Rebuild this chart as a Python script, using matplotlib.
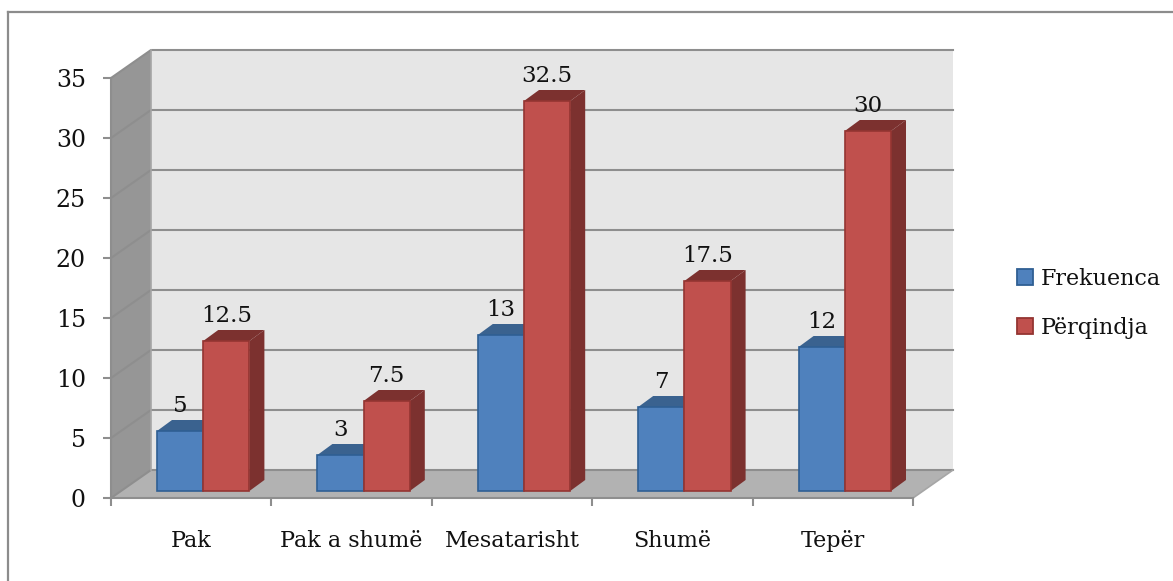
import matplotlib
matplotlib.use('Agg')
import matplotlib.pyplot as plt
from matplotlib.patches import Polygon, Rectangle

categories = ['Pak', 'Pak a shumë', 'Mesatarisht', 'Shumë', 'Tepër']
frekuenca = [5, 3, 13, 7, 12]
perqindja = [12.5, 7.5, 32.5, 17.5, 30]
y_ticks = [0, 5, 10, 15, 20, 25, 30, 35]

BLUE = ('#4f81bd', '#3a628f', '#2f5f93')
RED = ('#c0504d', '#7c312f', '#943532')

W, H = 1173, 581
X0, Y0 = 111, 498          # pixel position of the axis origin
UX, UY = 160.4, 12.0       # pixels per category and per unit
DX, DY = 40 / UX, 28 / UY  # depth of the 3D box in data units

plt.rcParams['font.family'] = ['DejaVu Serif']

fig = plt.figure(figsize=(W / 100, H / 100), dpi=100, facecolor='white')
ax = fig.add_axes([0, 0, 1, 1])
ax.set_xlim(-X0 / UX, (W - X0) / UX)
ax.set_ylim(-(H - Y0) / UY, Y0 / UY)

# outer chart frame, open to the right and bottom
frame = '#8c8c8c'
ax.plot([8 / UX - X0 / UX] * 2, [-(H - Y0) / UY, (Y0 - 12) / UY], color=frame, lw=1.6)
ax.plot([8 / UX - X0 / UX, (W - X0) / UX], [(Y0 - 12) / UY] * 2, color=frame, lw=1.6)

n = len(categories)
top = y_ticks[-1]

# back wall, side wall and floor
ax.add_patch(Rectangle((DX, DY), n, top, fc='#e6e6e6', ec='none', zorder=1))
ax.add_patch(Polygon([(0, 0), (DX, DY), (DX, DY + top), (0, top)], fc='#969696', ec='none', zorder=1))
ax.add_patch(Polygon([(0, 0), (n, 0), (n + DX, DY), (DX, DY)], fc='#b2b2b2', ec='none', zorder=1))

# gridlines run along the side wall and across the back wall
grid = '#8e8e8e'
for v in y_ticks:
    ax.plot([0, DX, n + DX], [v, v + DY, v + DY], color=grid, lw=1.5, zorder=2, solid_joinstyle='miter')
ax.plot([DX, DX], [DY, DY + top], color='#a6a6a6', lw=1.2, zorder=2)
ax.plot([n, n + DX], [0, DY], color='#a6a6a6', lw=1.2, zorder=2)

# bars sit a little inside the floor
BAR_W = 46.2 / UX
OFF_Y = 7 / UY
BAR_DX, BAR_DY = 15 / UX, 11 / UY
LABEL_GAP = 19 / UY


def draw_bar(x, v, colors, z):
    y0 = OFF_Y
    y1 = OFF_Y + v
    x1 = x + BAR_W
    front, dark, edge = colors
    ax.add_patch(Polygon([(x, y1), (x1, y1), (x1 + BAR_DX, y1 + BAR_DY), (x + BAR_DX, y1 + BAR_DY)],
                         fc=dark, ec='none', zorder=z))
    ax.add_patch(Polygon([(x1, y0), (x1 + BAR_DX, y0 + BAR_DY), (x1 + BAR_DX, y1 + BAR_DY), (x1, y1)],
                         fc=dark, ec='none', zorder=z))
    ax.add_patch(Rectangle((x, y0), BAR_W, v, fc=front, ec=edge, lw=1.2, zorder=z + 0.1))


for i in range(n):
    left = i + 46 / UX
    draw_bar(left, frekuenca[i], BLUE, 3)
    draw_bar(left + BAR_W, perqindja[i], RED, 4)
    ax.text(left + BAR_W / 2, frekuenca[i] + OFF_Y + LABEL_GAP, f'{frekuenca[i]:g}', ha='center', va='baseline',
            fontsize=16.5, color='#111111', zorder=6)
    ax.text(left + BAR_W * 1.5, perqindja[i] + OFF_Y + LABEL_GAP, f'{perqindja[i]:g}', ha='center', va='baseline',
            fontsize=16.5, color='#111111', zorder=6)

# axes: real ticks on spines placed at the origin
for side in ('top', 'right'):
    ax.spines[side].set_visible(False)
ax.spines['left'].set_position(('data', 0))
ax.spines['bottom'].set_position(('data', 0))
ax.spines['left'].set_bounds(0, top)
ax.spines['bottom'].set_bounds(0, n)
for side in ('left', 'bottom'):
    ax.spines[side].set_color(grid)
    ax.spines[side].set_linewidth(1.5)
ax.set_yticks(y_ticks)
ax.set_yticklabels([str(v) for v in y_ticks])
ax.tick_params(axis='y', length=6, width=1.5, color=grid, labelsize=17, pad=12, labelcolor='#111111')
ax.set_xticks(range(n + 1))
ax.set_xticklabels([''] * (n + 1))
ax.tick_params(axis='x', length=6, width=1.5, color=grid)
ax.set_xticks([i + 0.5 for i in range(n)], minor=True)
ax.set_xticklabels(categories, minor=True)
ax.tick_params(axis='x', which='minor', length=0, labelsize=16, pad=23, labelcolor='#111111')

# legend
handles = [Rectangle((0, 0), 1, 1, fc=BLUE[0], ec=BLUE[2], lw=1.3),
           Rectangle((0, 0), 1, 1, fc=RED[0], ec=RED[2], lw=1.3)]
ax.legend(handles, ['Frekuenca', 'Përqindja'], loc='upper left', bbox_to_anchor=(1017 / W, 1 - 268 / H),
          frameon=False, fontsize=16, handlelength=0.72, handleheight=0.72, handletextpad=0.35,
          labelspacing=1.2, borderpad=0, borderaxespad=0, labelcolor='#111111')

fig.savefig('out.png', dpi=100)
